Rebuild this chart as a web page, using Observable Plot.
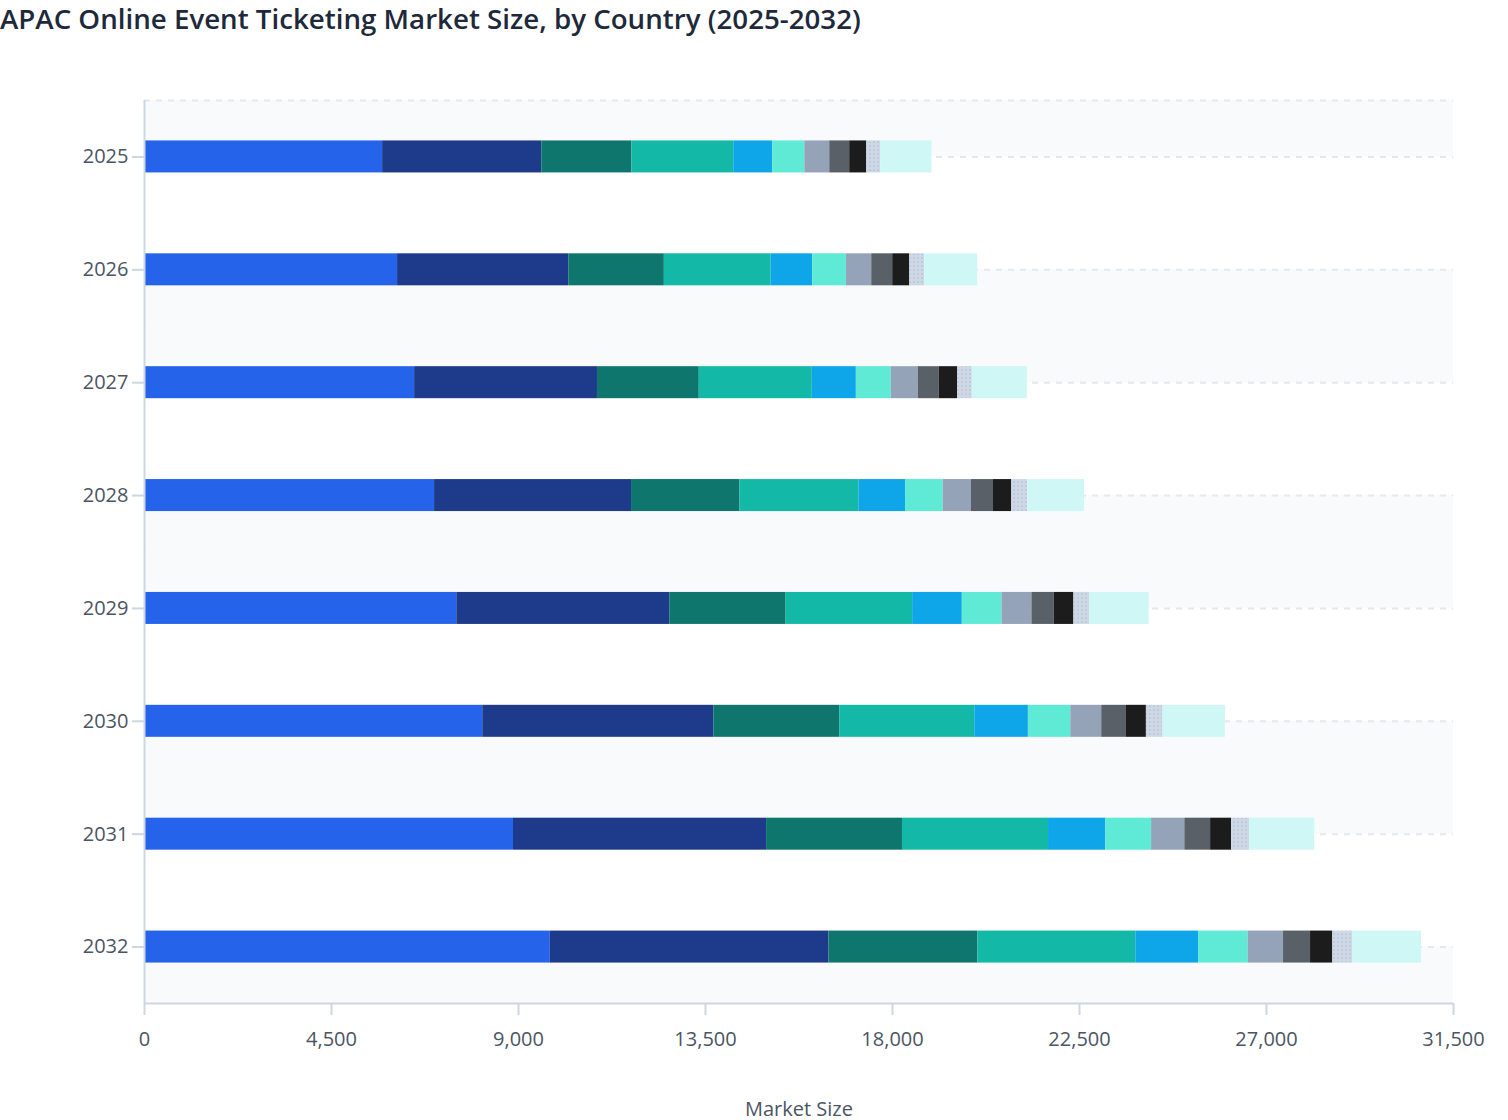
<!DOCTYPE html>
<html><head><meta charset="utf-8">
<script src="https://cdn.jsdelivr.net/npm/d3@7"></script>
<script src="https://cdn.jsdelivr.net/npm/@observablehq/plot@0.6"></script>
<style>
body{margin:0;background:#fff;font-family:"Open Sans",sans-serif;}
#wrap{position:relative;width:1508px;height:1120px;overflow:hidden}
#title{position:absolute;left:0;top:0;font-size:27.7px;font-weight:600;color:#1e293b;white-space:nowrap;line-height:37px}
#chart{position:absolute;left:0;top:0}
</style></head><body>
<div id="wrap"><div id="chart"></div><div id="title">APAC Online Event Ticketing Market Size, by Country (2025-2032)</div></div>
<script>
const years = ["2025", "2026", "2027", "2028", "2029", "2030", "2031", "2032"];
const countries = ["China", "Japan", "India", "Australia", "South Korea", "Indonesia", "Singapore", "Thailand", "Philippines", "Malaysia", "Rest of APAC"];
const colors = ["#2563eb", "#1e3a8a", "#0f766e", "#14b8a6", "#0ea5e9", "#5eead4", "#94a3b8", "#596068", "#1c1c1c", "url(#dots)", "#cff7f6"];
const xTicks = [0, 4500, 9000, 13500, 18000, 22500, 27000, 31500];

const china       = [5730, 6090, 6500, 6980, 7515, 8140, 8880, 9765];
const japan       = [3830, 4120, 4400, 4740, 5125, 5560, 6090, 6705];
const india       = [2170, 2300, 2450, 2610, 2800, 3030, 3270, 3585];
const australia   = [2450, 2570, 2720, 2860, 3045, 3250, 3515, 3800];
const southKorea  = [940, 1000, 1060, 1125, 1195, 1290, 1380, 1510];
const indonesia   = [770, 810, 840, 905, 955, 1020, 1100, 1195];
const singapore   = [600, 610, 650, 680, 720, 745, 800, 850];
const thailand    = [480, 505, 505, 530, 535, 595, 620, 650];
const philippines = [410, 410, 440, 440, 475, 480, 505, 535];
const malaysia    = [340, 360, 355, 380, 385, 400, 435, 475];
const restOfApac  = [1230, 1275, 1325, 1370, 1425, 1500, 1565, 1660];

const seriesList = [china, japan, india, australia, southKorea, indonesia, singapore, thailand, philippines, malaysia, restOfApac];
const rows = [];
seriesList.forEach((vals, i) => vals.forEach((v, j) => rows.push({country: countries[i], year: years[j], value: v})));

const W = 1508, H = 1120, mT = 100, mB = 117, mL = 144, mR = 55;
const step = (H - mT - mB) / years.length;
const barH = 32;
const inset = (step - barH) / 2;
const axisColor = "#cdd6e3";
const gridColor = "#e5e8ee";
const textColor = "#4b5563";

const plot = Plot.plot({
  width: W, height: H,
  marginTop: mT, marginBottom: mB, marginLeft: mL, marginRight: mR,
  style: {fontFamily: '"Open Sans", sans-serif', fontSize: "20px", color: textColor, background: "transparent", overflow: "visible"},
  x: {domain: [0, 31500], label: null},
  y: {domain: years, padding: 0, round: false, label: null},
  color: {domain: countries, range: colors},
  marks: [
    Plot.barX(years.filter((d, i) => i % 2 === 0), {y: d => d, x1: 0, x2: 31500, fill: "#f8fafc", insetBottom: step / 2}),
    Plot.barX(years.filter((d, i) => i % 2 === 1), {y: d => d, x1: 0, x2: 31500, fill: "#f8fafc", insetTop: step / 2}),
    Plot.gridY({stroke: gridColor, strokeOpacity: 1, strokeWidth: 2, strokeDasharray: "6,6"}),
    Plot.ruleY([years[0]], {dy: -step / 2, stroke: gridColor, strokeWidth: 2, strokeDasharray: "6,6"}),
    Plot.barX(rows, Plot.stackX({y: "year", x: "value", fill: "country", insetTop: inset, insetBottom: inset, title: d => `${d.country} ${d.year}: ${d.value}`})),
    Plot.ruleX([0], {stroke: axisColor, strokeWidth: 2}),
    Plot.ruleY([years[years.length - 1]], {dy: step / 2, stroke: axisColor, strokeWidth: 2}),
    Plot.axisX({ticks: xTicks, tickFormat: d3.format(","), tickSize: 12, tickPadding: 16, stroke: axisColor, strokeWidth: 2, fill: textColor, label: null}),
    Plot.axisY({tickSize: 12, tickPadding: 4, stroke: axisColor, strokeWidth: 2, fill: textColor, label: null}),
    Plot.text(["Market Size"], {frameAnchor: "bottom", dy: 112, fontSize: 20, fill: textColor})
  ]
});

const svg = d3.select(plot);
const defs = svg.insert("defs", ":first-child");
const pat = defs.append("pattern").attr("id", "dots").attr("width", 4).attr("height", 4).attr("patternUnits", "userSpaceOnUse");
pat.append("rect").attr("width", 4).attr("height", 4).attr("fill", "#cdd7e5");
pat.append("circle").attr("cx", 2).attr("cy", 2).attr("r", 0.55).attr("fill", "#94a3b8");

document.getElementById("chart").appendChild(plot);
</script>
</body></html>
